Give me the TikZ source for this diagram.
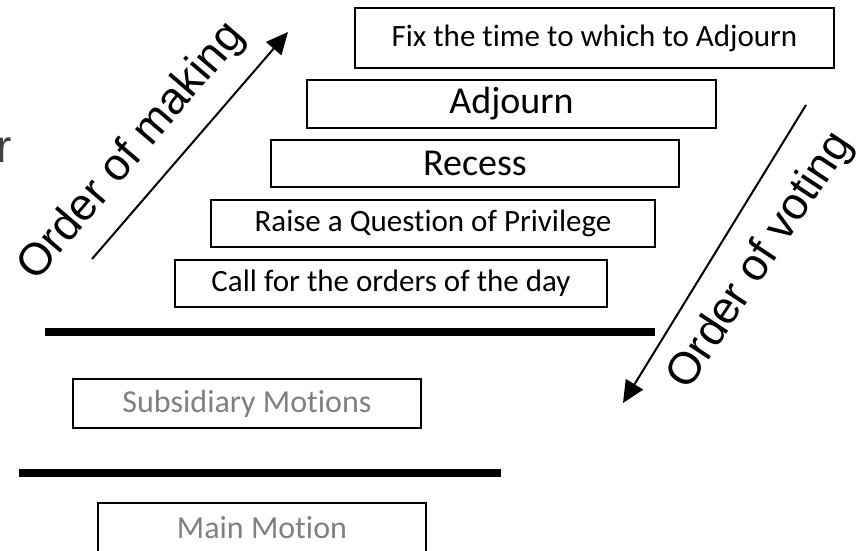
\documentclass[tikz,border=0pt]{standalone}
\usepackage{fontspec}
\setmainfont[Ligatures=NoCommon]{Carlito}
\newfontfamily\arialfont{Liberation Sans}
\usetikzlibrary{arrows.meta}

\definecolor{motiongray}{RGB}{128,128,128}
\definecolor{cutgray}{RGB}{64,64,64}

\tikzset{
  motionbox/.style={draw, line width=1.6pt, rectangle, inner sep=0pt, align=center},
  smalltext/.style={font=\fontsize{31}{36}\selectfont},
  largetext/.style={font=\fontsize{38}{44}\selectfont},
  graytext/.style={text=motiongray, font=\fontsize{32}{38}\selectfont},
  thickbar/.style={line width=8pt},
  orderarrow/.style={line width=2pt, -{Triangle[length=22pt,width=20pt]}},
  orderlabel/.style={font=\arialfont\fontsize{45}{50}\selectfont, inner sep=0pt}
}

\begin{document}
\begin{tikzpicture}[x=1pt,y=1pt,yscale=-1,xscale=1]
\useasboundingbox (0,0) rectangle (865,551);

%Shape: Rectangle
\node [motionbox, smalltext, minimum width=479, minimum height=60] (fixtime) at (594.5,38) {Fix the time to which to Adjourn};
%Shape: Rectangle
\node [motionbox, largetext, minimum width=409, minimum height=48] (adjourn) at (511.5,104) {Adjourn};
%Shape: Rectangle
\node [motionbox, largetext, minimum width=408, minimum height=47] (recess) at (475,163.5) {Recess};
%Shape: Rectangle
\node [motionbox, smalltext, minimum width=444, minimum height=47] (privilege) at (433,223.5) {Raise a Question of Privilege};
%Shape: Rectangle
\node [motionbox, smalltext, minimum width=432, minimum height=47] (ordersday) at (391,283.5) {Call for the orders of the day};

%Straight Lines
\draw [thickbar] (45,332) -- (655,332) ;

%Shape: Rectangle
\node [motionbox, graytext, minimum width=348, minimum height=49] (subsidiary) at (247,403.5) {Subsidiary Motions};

%Straight Lines
\draw [thickbar] (19,472.5) -- (501,472.5) ;

%Shape: Rectangle
\node [motionbox, graytext, minimum width=328, minimum height=50] (mainmotion) at (262,528) {Main Motion};

%Straight Lines
\coordinate (makingstart) at (92,259);
\coordinate (makingend) at (288,32);
\draw [orderarrow] (makingstart) -- (makingend) ;
%Straight Lines
\coordinate (votingstart) at (806,105);
\coordinate (votingend) at (623,403);
\draw [orderarrow] (votingstart) -- (votingend) ;

% Text Node
\node [orderlabel, rotate=49.5] (makinglabel) at (132,152) {Order of making};
% Text Node
\node [orderlabel, rotate=56.5] (votinglabel) at (761,261) {Order of voting};
% Text Node
\node [anchor=base east, inner sep=0pt, text=cutgray, font=\arialfont\fontsize{46}{50}\selectfont] (cutoff) at (12,162) {r};

\end{tikzpicture}
\end{document}
